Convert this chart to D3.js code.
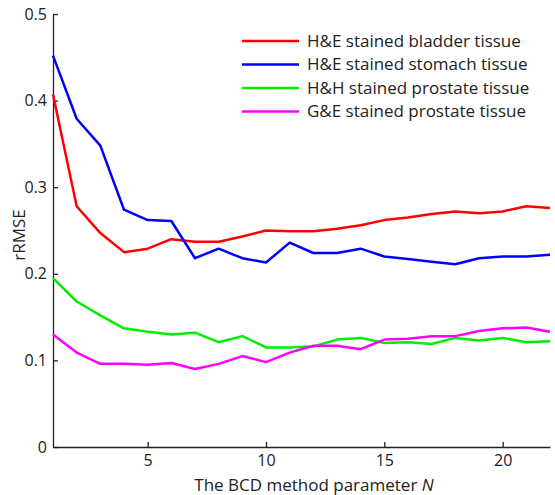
<!DOCTYPE html>
<meta charset="utf-8">
<style>
    body { margin: 0; background: #fff; }
    svg text { font-family: "Open Sans", "Liberation Sans", sans-serif; fill: #222; }
</style>
<body>
<div id="chart"></div>
<script src="https://cdn.jsdelivr.net/npm/d3@7"></script>
<script>
// values, N = 1..22
var N = d3.range(1, 23);
var bladder  = [0.407, 0.278, 0.247, 0.225, 0.229, 0.240, 0.237, 0.237, 0.243, 0.250, 0.249,
                0.249, 0.252, 0.256, 0.262, 0.265, 0.269, 0.272, 0.270, 0.272, 0.278, 0.276];
var stomach  = [0.452, 0.379, 0.348, 0.274, 0.262, 0.261, 0.218, 0.229, 0.218, 0.213, 0.236,
                0.224, 0.224, 0.229, 0.220, 0.217, 0.214, 0.211, 0.218, 0.220, 0.220, 0.222];
var hhProstate = [0.195, 0.168, 0.152, 0.137, 0.133, 0.130, 0.132, 0.121, 0.128, 0.115, 0.115,
                0.116, 0.124, 0.126, 0.120, 0.121, 0.119, 0.126, 0.123, 0.126, 0.121, 0.122];
var geProstate = [0.130, 0.109, 0.096, 0.096, 0.095, 0.097, 0.090, 0.096, 0.105, 0.098, 0.109,
                0.117, 0.117, 0.113, 0.124, 0.125, 0.128, 0.128, 0.134, 0.137, 0.138, 0.133];
var seriesNames = ["H&E stained bladder tissue", "H&E stained stomach tissue",
                   "H&H stained prostate tissue", "G&E stained prostate tissue"];
var seriesColors = ["#ff0000", "#0000ff", "#00ee00", "#ff00ff"];
var xTicks = [5, 10, 15, 20];
var yTicks = [0, 0.1, 0.2, 0.3, 0.4, 0.5];

var series = [bladder, stomach, hhProstate, geProstate];

var W = 555, H = 495;
var margin = {top: 14, right: 5, bottom: 48, left: 53};

var svg = d3.select("#chart").append("svg")
    .attr("width", W).attr("height", H);

var x = d3.scaleLinear().domain([1, 22]).range([margin.left, W - margin.right]);
var y = d3.scaleLinear().domain([0, 0.5]).range([H - margin.bottom, margin.top]);

// axes, ticks pointing inward like the original
var xAxis = svg.append("g")
    .attr("transform", "translate(0," + (H - margin.bottom) + ")")
    .call(d3.axisBottom(x).tickValues(xTicks).tickSizeInner(-5).tickSizeOuter(0).tickPadding(8));
var yAxis = svg.append("g")
    .attr("transform", "translate(" + margin.left + ",0)")
    .call(d3.axisLeft(y).tickValues(yTicks).tickFormat(d3.format("")).tickSizeInner(-5).tickSizeOuter(0).tickPadding(6));

[xAxis, yAxis].forEach(function(g) {
    g.selectAll("path, line").attr("stroke", "#222").attr("stroke-width", 1.3);
    g.selectAll("text").style("font-size", "16px").attr("fill", "#222");
});

// lines
var line = d3.line()
    .x(function(d, i) { return x(N[i]); })
    .y(function(d) { return y(d); });

svg.append("g").selectAll("path")
    .data(series)
    .enter().append("path")
    .attr("d", line)
    .attr("fill", "none")
    .attr("stroke", function(d, i) { return seriesColors[i]; })
    .attr("stroke-width", 2.5)
    .attr("stroke-linejoin", "round");

// legend
var legend = svg.append("g").selectAll("g")
    .data(seriesNames)
    .enter().append("g")
    .attr("transform", function(d, i) { return "translate(242," + (41 + i * 23.5) + ")"; });
legend.append("line")
    .attr("x1", 0).attr("x2", 57)
    .attr("stroke", function(d, i) { return seriesColors[i]; })
    .attr("stroke-width", 2.5);
legend.append("text")
    .attr("x", 65).attr("dy", "0.35em")
    .style("font-size", "17px")
    .text(function(d) { return d; });

// axis labels
var xl = svg.append("text")
    .attr("x", 314).attr("y", 491)
    .attr("text-anchor", "middle")
    .style("font-size", "17px")
    .text("The BCD method parameter ");
xl.append("tspan").style("font-style", "italic").text("N");

svg.append("text")
    .attr("transform", "translate(25,235) rotate(-90)")
    .attr("text-anchor", "middle")
    .style("font-size", "17px")
    .text("rRMSE");
</script>
</body>
